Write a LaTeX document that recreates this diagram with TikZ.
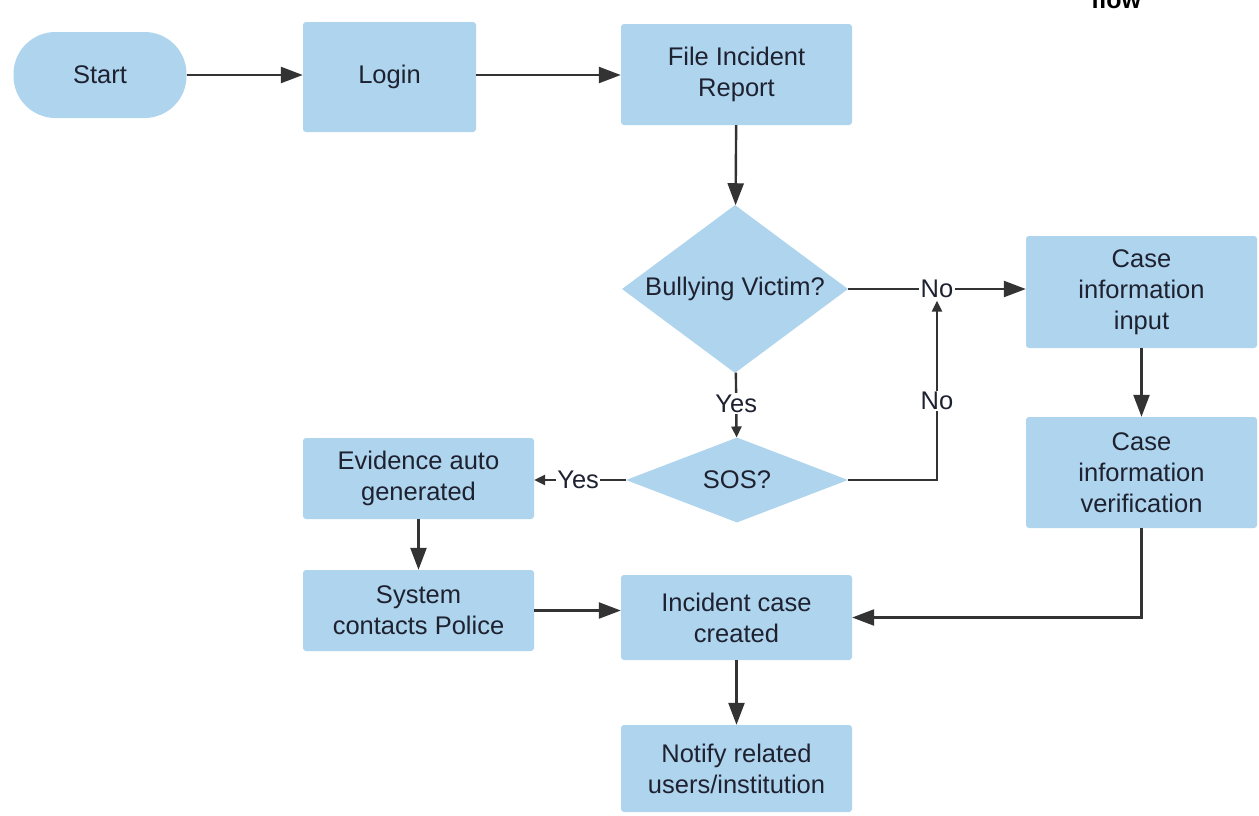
\documentclass[tikz,border=0pt]{standalone}
\usepackage{fontspec}
\setmainfont{Liberation Sans}
\usetikzlibrary{shapes.geometric,arrows.meta}
\definecolor{boxblue}{RGB}{175,212,238}
\definecolor{inkc}{RGB}{30,34,48}
\definecolor{linec}{RGB}{51,51,51}
\begin{document}
\begin{tikzpicture}[x=1pt,y=-1pt,
  every node/.style={text=inkc,font=\fontsize{25.5}{31}\selectfont},
  box/.style={rectangle,rounded corners=3pt,fill=boxblue,minimum width=231pt,align=center,inner sep=0pt},
  term/.style={rectangle,rounded corners=42pt,fill=boxblue,minimum width=173pt,minimum height=86pt,inner sep=0pt},
  dec/.style={diamond,fill=boxblue,inner sep=0pt},
  conn/.style={draw=linec,line width=2.4pt,-{Triangle[length=22pt,width=16pt]}},
  connsmall/.style={draw=linec,line width=2.4pt,-{Triangle[length=11pt,width=10pt]}},
  lab/.style={fill=white,inner sep=1.5pt}]
\useasboundingbox (0,0) rectangle (1259,815);
\fill[white] (0,0) rectangle (1259,815);
\node[font=\bfseries\fontsize{25}{31}\selectfont,text=black] (flowt) at (1116,0) {flow};
\node[term] (start) at (100,75) {Start};
\node[box,minimum width=173pt,minimum height=110pt] (login) at (389.5,77) {Login};
\node[box,minimum height=101pt] (file) at (736.5,74.5) {File Incident\\Report};
\node[dec,shape aspect=1.345,minimum width=226pt,minimum height=168pt] (bully) at (735,289) {Bullying Victim?};
\node[box,minimum height=112pt] (cinput) at (1141.5,292) {Case\\information\\input};
\node[box,minimum height=111pt] (cverif) at (1141.5,472.5) {Case\\information\\verification};
\node[dec,shape aspect=2.6,minimum width=222pt,minimum height=85pt] (sos) at (737,480) {SOS?};
\node[box,minimum height=81pt] (evid) at (418.5,478.5) {Evidence auto\\generated};
\node[box,minimum height=81pt] (police) at (418.5,610.5) {System\\contacts Police};
\node[box,minimum height=85pt] (incid) at (736.5,617.5) {Incident case\\created};
\node[box,minimum height=87pt] (notify) at (736.5,768.5) {Notify related\\users/institution};
% connectors
\draw[conn] (start.east) -- (login.west |- start.east);
\draw[conn] (login.east |- start.east) -- (file.west |- start.east);
\draw[conn] (file) -- (bully);
\draw[conn] (bully.east) -- (cinput.west |- bully.east) node[lab,pos=0.5] (no1) {No};
\draw[connsmall] (bully) -- (sos) node[lab,pos=0.48] {Yes};
\draw[connsmall] (sos.west) -- (evid.east |- sos.west) node[lab,pos=0.52] {Yes};
\draw[connsmall] (sos.east) -| (no1.south) node[lab,pos=0.72] {No};
\draw[conn] (cinput) -- (cverif);
\draw[conn] (cverif.south) |- (incid.east);
\draw[conn] (evid) -- (police);
\draw[conn] (police.east) -- (incid.west |- police.east);
\draw[conn] (incid) -- (notify);
\end{tikzpicture}
\end{document}
